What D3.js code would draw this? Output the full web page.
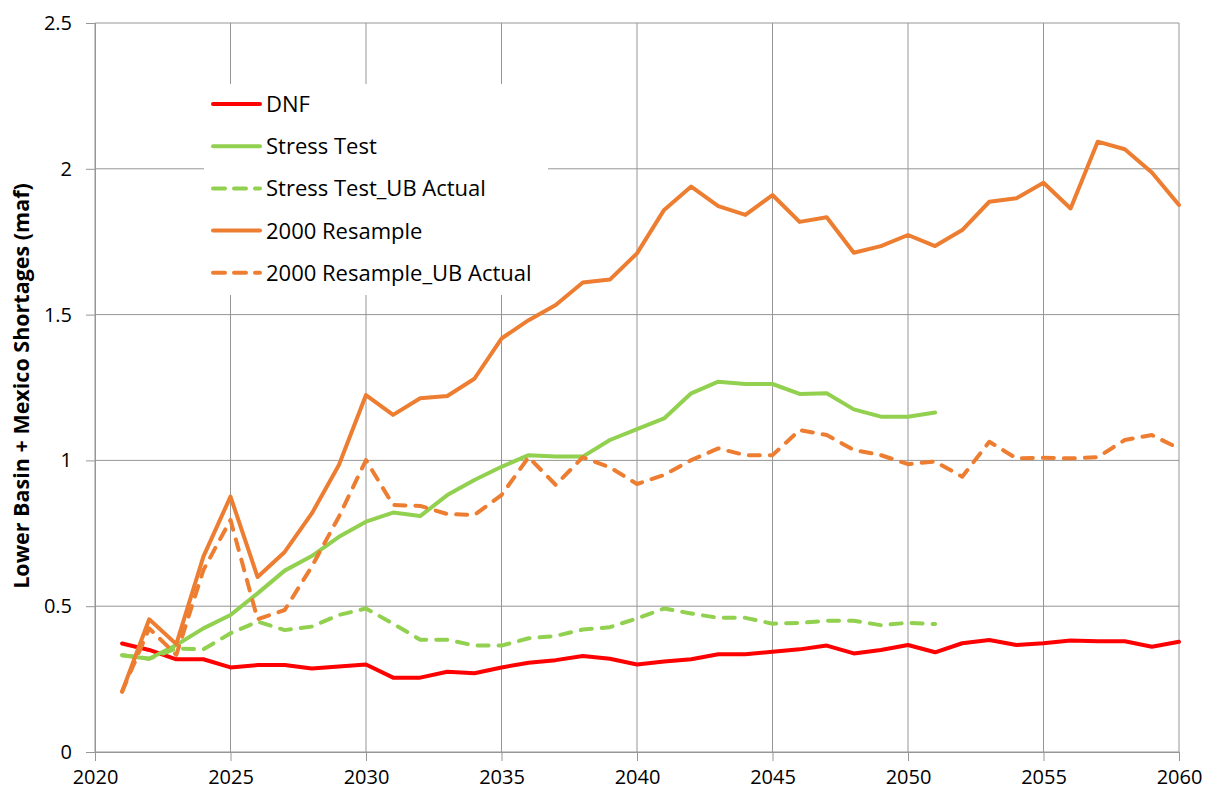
<!DOCTYPE html>
<html>
<head>
<meta charset="utf-8">
<script src="https://cdn.jsdelivr.net/npm/d3@7"></script>
<style>
  body { margin: 0; background: #fff; }
  svg text { font-family: "Open Sans", "Liberation Sans", sans-serif; fill: #000; }
</style>
</head>
<body>
<div id="chart"></div>
<script>
// years 2021..2060
var years = d3.range(2021, 2061);

var dnf = [0.372, 0.35, 0.318, 0.318, 0.29, 0.298, 0.298, 0.286, 0.293, 0.30,
  0.255, 0.255, 0.275, 0.27, 0.29, 0.306, 0.315, 0.329, 0.32, 0.30,
  0.31, 0.318, 0.335, 0.335, 0.344, 0.352, 0.365, 0.338, 0.35, 0.367,
  0.342, 0.373, 0.384, 0.367, 0.373, 0.382, 0.38, 0.38, 0.361, 0.378];

var stressTest = [0.332, 0.32, 0.367, 0.424, 0.47, 0.544, 0.622, 0.672, 0.738, 0.79,
  0.821, 0.809, 0.881, 0.933, 0.978, 1.018, 1.013, 1.013, 1.07, 1.107,
  1.144, 1.23, 1.27, 1.262, 1.262, 1.228, 1.23, 1.175, 1.15, 1.15, 1.164];

var stressTestUB = [0.332, 0.32, 0.355, 0.352, 0.407, 0.447, 0.418, 0.43, 0.47, 0.492,
  0.44, 0.385, 0.385, 0.365, 0.365, 0.39, 0.398, 0.42, 0.428, 0.458,
  0.492, 0.475, 0.46, 0.46, 0.44, 0.443, 0.45, 0.45, 0.435, 0.443, 0.439];

var resample = [0.207, 0.455, 0.37, 0.67, 0.876, 0.60, 0.686, 0.818, 0.984, 1.224,
  1.156, 1.213, 1.221, 1.28, 1.418, 1.481, 1.533, 1.61, 1.62, 1.71,
  1.859, 1.939, 1.872, 1.842, 1.91, 1.818, 1.834, 1.712, 1.735, 1.773,
  1.735, 1.79, 1.887, 1.899, 1.952, 1.864, 2.093, 2.067, 1.987, 1.876];

var resampleUB = [0.207, 0.424, 0.333, 0.624, 0.796, 0.455, 0.487, 0.636, 0.807, 1.001,
  0.847, 0.844, 0.816, 0.813, 0.881, 1.011, 0.916, 1.011, 0.976, 0.919,
  0.95, 1.001, 1.041, 1.018, 1.018, 1.104, 1.087, 1.036, 1.018, 0.987,
  0.996, 0.944, 1.064, 1.007, 1.009, 1.007, 1.011, 1.07, 1.087, 1.041];

var seriesNames = ["DNF", "Stress Test", "Stress Test_UB Actual", "2000 Resample", "2000 Resample_UB Actual"];
var seriesValues = [dnf, stressTest, stressTestUB, resample, resampleUB];
var seriesColors = ["#ff0000", "#92d050", "#92d050", "#ed7d31", "#ed7d31"];
var seriesDashed = [false, false, true, false, true];

var xTicks = [2020, 2025, 2030, 2035, 2040, 2045, 2050, 2055, 2060];
var yTicks = [0, 0.5, 1, 1.5, 2, 2.5];

var w = 1211, h = 798;
var margin = {left: 95, right: 32, top: 23, bottom: 46};

var svg = d3.select("#chart").append("svg")
  .attr("width", w)
  .attr("height", h);

var x = d3.scaleLinear().domain([2020, 2060]).range([margin.left, w - margin.right]);
var y = d3.scaleLinear().domain([0, 2.5]).range([h - margin.bottom, margin.top]);

var gridColor = "#969696";

// gridlines
svg.append("g").selectAll("line.v")
  .data(xTicks)
  .enter().append("line")
  .attr("x1", d => x(d)).attr("x2", d => x(d))
  .attr("y1", y(2.5)).attr("y2", y(0))
  .attr("stroke", gridColor).attr("stroke-width", 1);

svg.append("g").selectAll("line.h")
  .data(yTicks)
  .enter().append("line")
  .attr("x1", x(2020)).attr("x2", x(2060))
  .attr("y1", d => y(d)).attr("y2", d => y(d))
  .attr("stroke", gridColor).attr("stroke-width", 1);

// axes
var xAxis = d3.axisBottom(x).tickValues(xTicks).tickFormat(d3.format("d")).tickSizeOuter(0).tickSize(9).tickPadding(9);
var yAxis = d3.axisLeft(y).tickValues(yTicks).tickFormat(d => d).tickSizeOuter(0).tickSize(9).tickPadding(14);

var gx = svg.append("g").attr("transform", "translate(0," + y(0) + ")").call(xAxis);
var gy = svg.append("g").attr("transform", "translate(" + x(2020) + ",0)").call(yAxis);
[gx, gy].forEach(function (g) {
  g.selectAll("path,line").attr("stroke", gridColor);
  g.selectAll("text").style("font-size", "20px").attr("fill", "#000");
});

// y axis title
svg.append("text")
  .attr("transform", "translate(29," + 386 + ") rotate(-90)")
  .attr("text-anchor", "middle")
  .style("font-size", "21.5px")
  .style("font-weight", "bold")
  .text("Lower Basin + Mexico Shortages (maf)");

// legend background covers the gridlines
var legend = svg.append("g");
legend.append("rect")
  .attr("x", 204).attr("y", 84)
  .attr("width", 344).attr("height", 211)
  .attr("fill", "#fff");

// lines
var line = d3.line()
  .x((d, i) => x(years[i]))
  .y(d => y(d));

seriesValues.forEach(function (vals, k) {
  svg.append("path")
    .datum(vals)
    .attr("d", line)
    .attr("fill", "none")
    .attr("stroke", seriesColors[k])
    .attr("stroke-width", 4)
    .attr("stroke-linejoin", "round")
    .attr("stroke-linecap", "round")
    .attr("stroke-dasharray", seriesDashed[k] ? "11,10" : null);
});

// legend entries
seriesNames.forEach(function (name, k) {
  var ly = 104 + k * 42.2;
  legend.append("line")
    .attr("x1", 213).attr("x2", 260)
    .attr("y1", ly).attr("y2", ly)
    .attr("stroke", seriesColors[k])
    .attr("stroke-width", 4)
    .attr("stroke-linecap", "round")
    .attr("stroke-dasharray", seriesDashed[k] ? "12,9" : null);
  legend.append("text")
    .attr("x", 266).attr("y", ly)
    .attr("dy", "0.36em")
    .style("font-size", "22px")
    .text(name);
});
</script>
</body>
</html>
